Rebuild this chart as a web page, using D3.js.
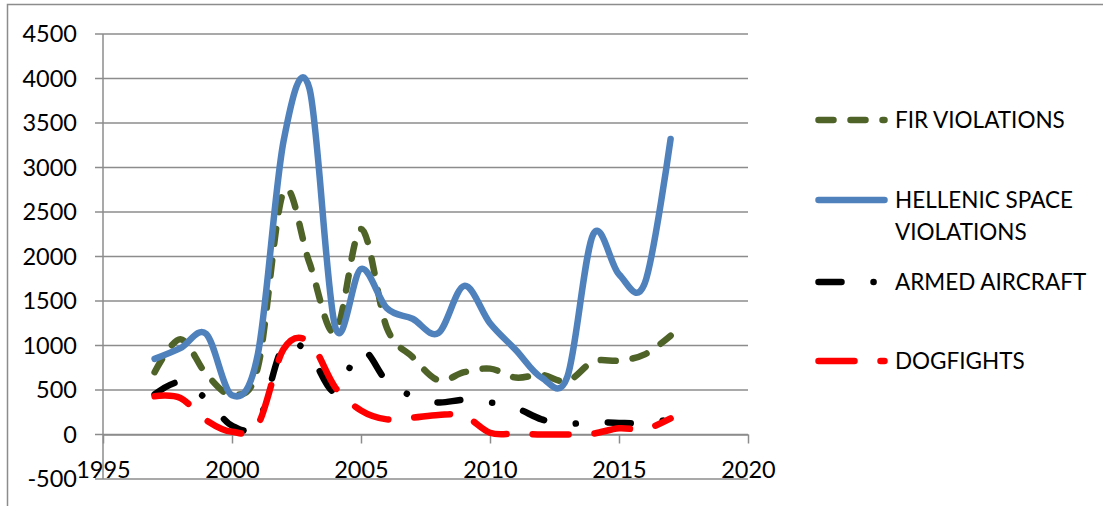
<!DOCTYPE html>
<html>
<head>
<meta charset="utf-8">
<script src="https://cdn.jsdelivr.net/npm/d3@7"></script>
<style>
  html, body { margin: 0; padding: 0; background: #fff; }
  svg { display: block; }
</style>
</head>
<body>
<div id="chart"></div>
<script>
// values
const years = [1997, 1998, 1999, 2000, 2001, 2002, 2003, 2004, 2005, 2006, 2007,
  2008, 2009, 2010, 2011, 2012, 2013, 2014, 2015, 2016, 2017]
const firViolations = [700, 1070, 680, 450, 750, 2730, 1930, 1150, 2310, 1200, 870,
  610, 700, 740, 640, 670, 600, 820, 830, 900, 1110]
const hellenicSpace = [850, 970, 1130, 440, 900, 3300, 3890, 1210, 1860, 1420, 1300,
  1140, 1670, 1250, 950, 640, 650, 2250, 1800, 1700, 3320]
const armedAircraft = [450, 590, 400, 100, 130, 1000, 900, 480, 950, 600, 430,
  360, 390, 360, 300, 170, 120, 140, 130, 130, 170]
const dogfights = [430, 410, 160, 30, 110, 960, 1040, 530, 270, 170, 190,
  220, 210, 20, 10, 0, 0, 10, 70, 60, 180]

const xTicks = [1995, 2000, 2005, 2010, 2015, 2020]
const yTicks = [-500, 0, 500, 1000, 1500, 2000, 2500, 3000, 3500, 4000, 4500]

const series = [
  { name: ['FIR VIOLATIONS'], values: firViolations, color: '#4F6228', dash: '15,17' },
  { name: ['HELLENIC SPACE', 'VIOLATIONS'], values: hellenicSpace, color: '#4F81BD', dash: null },
  { name: ['ARMED AIRCRAFT'], values: armedAircraft, color: '#000000', dash: '23,32,0.1,32' },
  { name: ['DOGFIGHTS'], values: dogfights, color: '#FF0000', dash: '36,26' }
]

const width = 1103
const height = 506
const font = 'Lato, Calibri, sans-serif'
const gridColor = '#8c8c8c'

const svg = d3.select('#chart').append('svg')
  .attr('width', width)
  .attr('height', height)

// outer chart border
svg.append('rect')
  .attr('x', 7.5).attr('y', 4.5)
  .attr('width', 1110).attr('height', 520)
  .attr('fill', 'none')
  .attr('stroke', gridColor)
  .attr('stroke-width', 1.5)

const x = d3.scaleLinear().domain([1995, 2020]).range([103, 748])
const y = d3.scaleLinear().domain([-500, 4500]).range([479, 34])

// horizontal gridlines (with small tick stubs left of the axis)
svg.append('g').selectAll('line')
  .data(yTicks)
  .join('line')
  .attr('x1', x(1995) - 8)
  .attr('x2', x(2020))
  .attr('y1', d => y(d))
  .attr('y2', d => y(d))
  .attr('stroke', gridColor)
  .attr('stroke-width', 1.5)

// vertical axis line
svg.append('line')
  .attr('x1', x(1995)).attr('x2', x(1995))
  .attr('y1', y(4500)).attr('y2', y(-500))
  .attr('stroke', gridColor)
  .attr('stroke-width', 1.5)

// x axis sits on zero
const xAxis = svg.append('g')
  .attr('transform', `translate(0,${y(0)})`)
  .call(d3.axisBottom(x).tickValues(xTicks).tickSize(9).tickSizeOuter(0).tickFormat(d3.format('d')))
xAxis.select('.domain').attr('stroke', gridColor).attr('stroke-width', 1.5)
xAxis.selectAll('.tick line').attr('stroke', gridColor).attr('stroke-width', 1.5)
xAxis.selectAll('.tick text')
  .attr('y', 43)
  .attr('dy', null)
  .attr('fill', '#000')
  .attr('font-family', font)
  .attr('font-size', 23.5)

// y labels
svg.append('g').selectAll('text')
  .data(yTicks)
  .join('text')
  .attr('x', 77)
  .attr('y', d => y(d))
  .attr('dy', '0.36em')
  .attr('text-anchor', 'end')
  .attr('font-family', font)
  .attr('font-size', 23.5)
  .attr('fill', '#000')
  .text(d => d)

// Excel-style smoothed lines
const line = d3.line()
  .x((d, i) => x(years[i]))
  .y(d => y(d))
  .curve(d3.curveCardinal.tension(0))

svg.append('g').selectAll('path')
  .data(series)
  .join('path')
  .attr('d', d => line(d.values))
  .attr('fill', 'none')
  .attr('stroke', d => d.color)
  .attr('stroke-width', 6.5)
  .attr('stroke-linecap', 'round')
  .attr('stroke-linejoin', 'round')
  .attr('stroke-dasharray', d => d.dash)

// legend
const legendY = [120, 200, 282, 361]
const legend = svg.append('g').selectAll('g')
  .data(series)
  .join('g')
  .attr('transform', (d, i) => `translate(0,${legendY[i]})`)

legend.append('line')
  .attr('x1', 818.5).attr('x2', 884.5)
  .attr('stroke', d => d.color)
  .attr('stroke-width', 6.5)
  .attr('stroke-linecap', 'round')
  .attr('stroke-dasharray', d => d.dash)

legend.append('text')
  .attr('x', 895)
  .attr('font-family', font)
  .attr('font-size', 22.5)
  .attr('fill', '#000')
  .selectAll('tspan')
  .data(d => d.name)
  .join('tspan')
  .attr('x', 895)
  .attr('y', (d, i) => i * 32)
  .attr('dy', '0.36em')
  .text(d => d)
</script>
</body>
</html>
